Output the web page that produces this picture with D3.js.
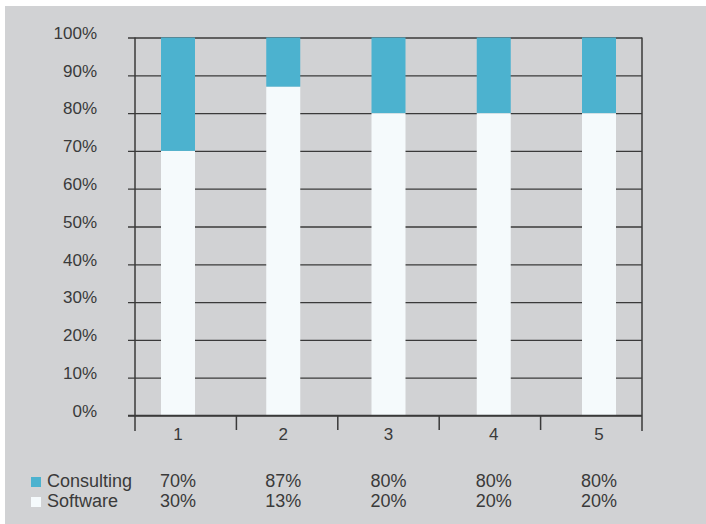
<!DOCTYPE html>
<html>
<head>
<meta charset="utf-8">
<script src="https://cdn.jsdelivr.net/npm/d3@7"></script>
<style>
  body { margin: 0; background: #fff; }
  svg text { font-family: "Liberation Sans", Arial, sans-serif; fill: #3a3a3a; }
</style>
</head>
<body>
<div id="app"></div>
<script>
"use strict";

// chart data
const categories = ["1", "2", "3", "4", "5"];
const consulting = [70, 87, 80, 80, 80];
const software = [30, 13, 20, 20, 20];
const yTicks = [0, 10, 20, 30, 40, 50, 60, 70, 80, 90, 100];
const seriesNames = ["Consulting", "Software"];

const colors = { Consulting: "#4cb2cf", Software: "#f5fafc" };

const width = 706, height = 524;
const plot = { left: 135, right: 642, top: 37.5, bottom: 415.5 };

const svg = d3.select("#app").append("svg")
    .attr("width", width)
    .attr("height", height);

// grey panel
svg.append("rect")
    .attr("x", 5).attr("y", 6)
    .attr("width", width - 5).attr("height", height - 6)
    .attr("fill", "#d1d2d4");

const y = d3.scaleLinear().domain([0, 100]).range([plot.bottom, plot.top]);
// bar / label positions
const x = d3.scalePoint().domain(categories).range([178, 599]);
// separator ticks on the category axis
const xSep = d3.scaleLinear().domain([0, categories.length]).range([plot.left, plot.right]);

// horizontal gridlines with ticks poking out on the left
const yAxis = d3.axisLeft(y)
    .tickValues(yTicks)
    .tickSize(-(plot.right - plot.left))
    .tickFormat(d => d + "%");

const gy = svg.append("g")
    .attr("transform", `translate(${plot.left},0)`)
    .call(yAxis);
gy.select(".domain").remove();
gy.selectAll(".tick line")
    .attr("x1", -7)
    .attr("stroke", "#3a3a3a")
    .attr("stroke-width", 1.3);
gy.selectAll(".tick text")
    .attr("x", -38)
    .attr("dy", "0.05em")
    .style("font-size", "17px");

// stacked bars: lower part then upper part
const barW = 34;
const stack = categories.map((c, i) => ({ cat: c, low: consulting[i], high: software[i] }));

const bars = svg.append("g");
bars.selectAll(".low").data(stack).join("rect")
    .attr("x", d => x(d.cat) - barW / 2)
    .attr("width", barW)
    .attr("y", d => y(d.low))
    .attr("height", d => y(0) - y(d.low))
    .attr("fill", colors.Software);
bars.selectAll(".high").data(stack).join("rect")
    .attr("x", d => x(d.cat) - barW / 2)
    .attr("width", barW)
    .attr("y", d => y(d.low + d.high))
    .attr("height", d => y(d.low) - y(d.low + d.high))
    .attr("fill", colors.Consulting);

// axis frame lines
const frame = svg.append("g").attr("stroke", "#3a3a3a").attr("stroke-width", 1.5);
frame.append("line")
    .attr("x1", plot.left).attr("x2", plot.left)
    .attr("y1", plot.top).attr("y2", 431);
frame.append("line")
    .attr("x1", plot.right).attr("x2", plot.right)
    .attr("y1", plot.top).attr("y2", 431);
frame.append("line")
    .attr("x1", plot.left - 7).attr("x2", plot.right)
    .attr("y1", plot.bottom).attr("y2", plot.bottom);

// separators between categories
frame.selectAll(".sep").data(d3.range(1, categories.length)).join("line")
    .attr("x1", d => xSep(d)).attr("x2", d => xSep(d))
    .attr("y1", plot.bottom).attr("y2", 430);

// category labels
svg.append("g").selectAll("text").data(categories).join("text")
    .attr("x", d => x(d))
    .attr("y", 440)
    .attr("text-anchor", "middle")
    .style("font-size", "17px")
    .text(d => d);

// legend + value table
const rows = [
    { name: seriesNames[0], values: consulting, y: 487 },
    { name: seriesNames[1], values: software, y: 507 }
];
const legend = svg.append("g");
rows.forEach(r => {
    legend.append("rect")
        .attr("x", 31).attr("y", r.y - 10)
        .attr("width", 10).attr("height", 10)
        .attr("fill", colors[r.name]);
    legend.append("text")
        .attr("x", 47).attr("y", r.y)
        .style("font-size", "18px")
        .text(r.name);
    legend.selectAll(null).data(r.values).join("text")
        .attr("x", (d, i) => x(categories[i]))
        .attr("y", r.y)
        .attr("text-anchor", "middle")
        .style("font-size", "18px")
        .text(d => d + "%");
});
</script>
</body>
</html>
